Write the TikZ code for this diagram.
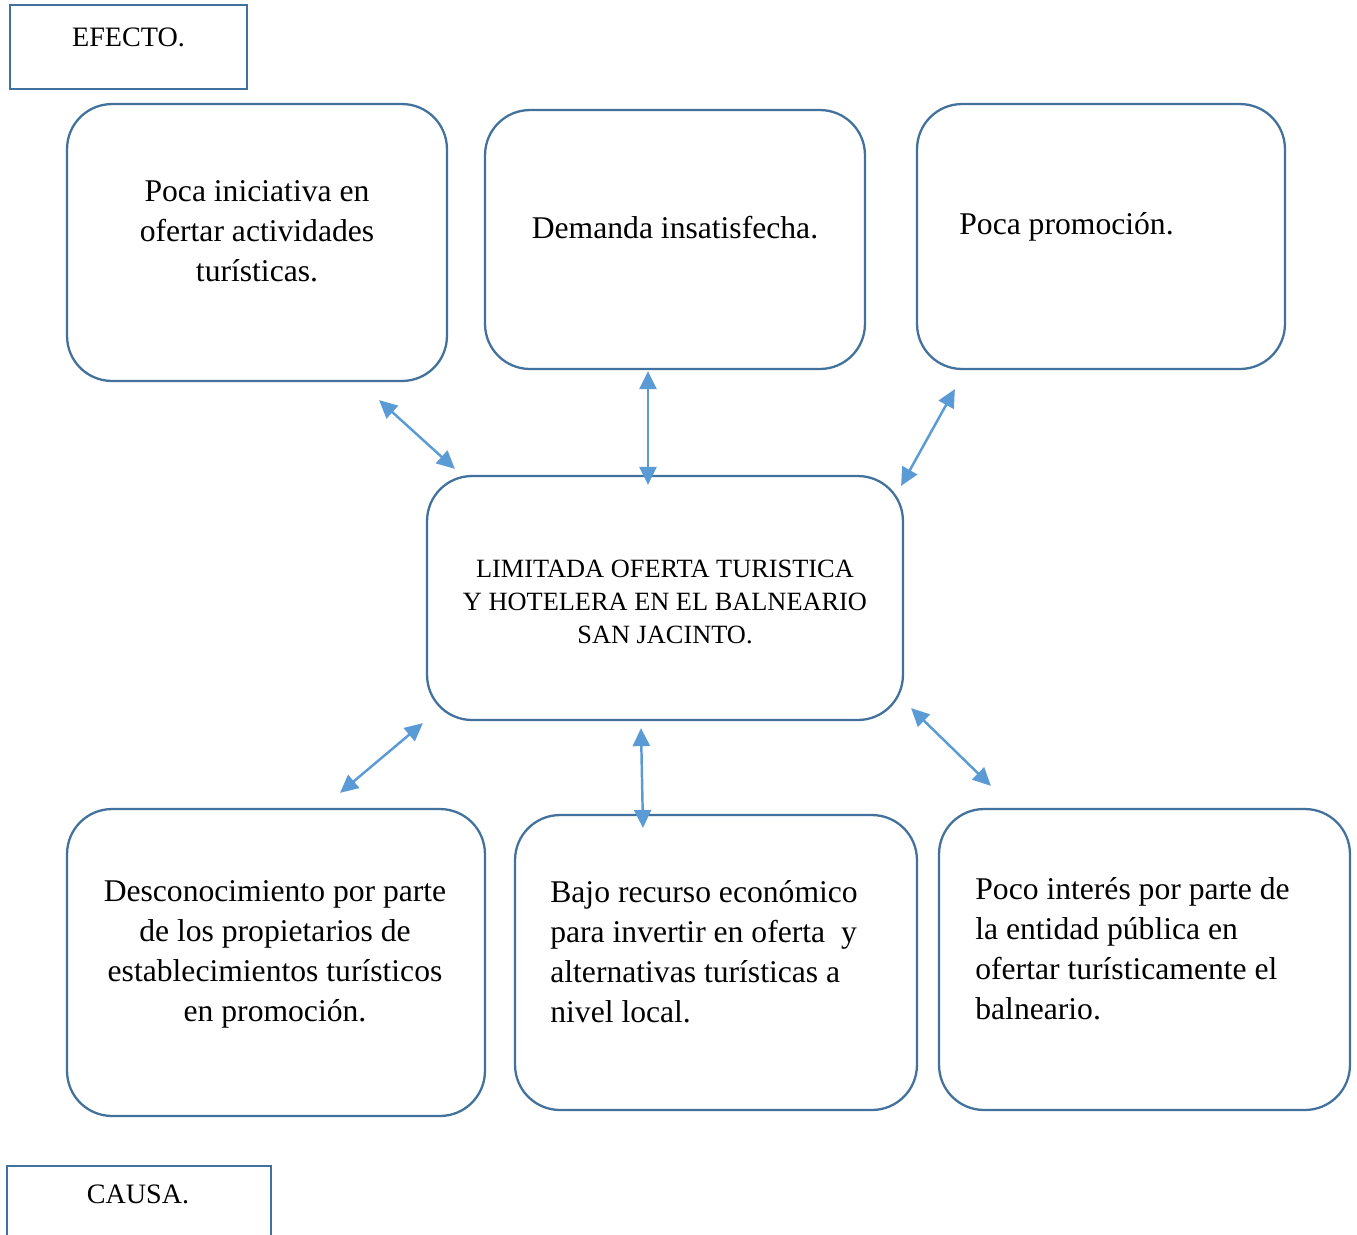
\documentclass[tikz,border=0pt]{standalone}
\usepackage{fontspec}
\setmainfont{Liberation Serif}
\usepackage{tikz}
\usetikzlibrary{arrows.meta, calc}

\definecolor{boxblue}{HTML}{41719C}
\definecolor{arrblue}{HTML}{5B9BD5}

\begin{document}
\begin{tikzpicture}[
  x=0.02cm, y=-0.02cm,
  box/.style={draw=boxblue, line width=1.3pt, rounded corners=0.9cm,
              inner sep=0pt},
  tag/.style={draw=boxblue, line width=1.3pt, inner sep=0pt},
  txt/.style={font=\fontsize{18}{22.8}\selectfont, inner sep=0pt},
  tagtxt/.style={font=\fontsize{16}{19}\selectfont, inner sep=0pt},
  coretxt/.style={font=\fontsize{15}{18.8}\selectfont, inner sep=0pt, align=center},
  arr/.style={{Triangle[length=0.36cm, width=0.34cm]}-{Triangle[length=0.36cm, width=0.34cm]},
              draw=arrblue, fill=arrblue, line width=1.4pt},
]
\useasboundingbox (0,0) rectangle (1357,1235);

% --- labels: effect / cause
\node[tag, minimum width=4.74cm, minimum height=1.68cm] (efecto) at (128.5,47) {};
\node[tagtxt] (efectotxt) at (128.5,37) {EFECTO.};
\node[tag, minimum width=5.28cm, minimum height=1.8cm] (causa) at (139,1211) {};
\node[tagtxt] (causatxt) at (138,1194) {CAUSA.};

% --- row 1: effects
\node[box, minimum width=7.6cm,  minimum height=5.54cm] (a1) at (257,242.5) {};
\node[box, minimum width=7.6cm,  minimum height=5.18cm] (a2) at (675,239.5) {};
\node[box, minimum width=7.36cm, minimum height=5.3cm]  (a3) at (1101,236.5) {};
\node[txt, align=center] (a1txt) at (257,231) {Poca iniciativa en\\ofertar actividades\\turísticas.};
\node[txt] (a2txt) at (675,228) {Demanda insatisfecha.};
\node[txt, anchor=west] (a3txt) at (959,227) {Poca promoción.};

% --- row 2: central problem
\node[box, minimum width=9.52cm, minimum height=4.88cm] (core) at (665,598) {};
\node[coretxt] (coretxt) at (665,602) {LIMITADA OFERTA TURISTICA\\Y HOTELERA EN EL BALNEARIO\\SAN JACINTO.};

% --- row 3: causes
\node[box, minimum width=8.36cm, minimum height=6.14cm] (b1) at (276,962.5) {};
\node[box, minimum width=8.04cm, minimum height=5.9cm]  (b2) at (716,962.5) {};
\node[box, minimum width=8.22cm, minimum height=6.02cm] (b3) at (1144.5,959.5) {};
\node[txt, align=center] (b1txt) at (275,954) {Desconocimiento por parte\\de los propietarios de\\establecimientos turísticos\\en promoción.};
\node[txt, align=left, anchor=west] (b2txt) at (550,952) {Bajo recurso económico\\para invertir en oferta\ \ y\\alternativas turísticas a\\nivel local.};
\node[txt, align=left, anchor=west] (b3txt) at (975,949) {Poco interés por parte de\\la entidad pública en\\ofertar turísticamente el\\balneario.};

% --- arrows: effects <-> problem
\draw[arr] ($(a1.south east)+(-69,18)$) -- ($(core.north west)+(29,-6)$);
\draw[arr] ($(a2.south)+(-27,1)$) -- ($(core.north)+(-17,10)$);
\draw[arr] ($(a3.south west)+(39,19)$) -- ($(core.north east)+(-3,11)$);

% --- arrows: problem <-> causes
\draw[arr] ($(core.south west)+(-3,2)$) -- ($(b1.north)+(64,-15)$);
\draw[arr] ($(core.south)+(-24,7)$) -- ($(b2.north)+(-73,14)$);
\draw[arr] ($(core.south east)+(7,-13)$) -- ($(b3.north west)+(53,-22)$);
\end{tikzpicture}
\end{document}
